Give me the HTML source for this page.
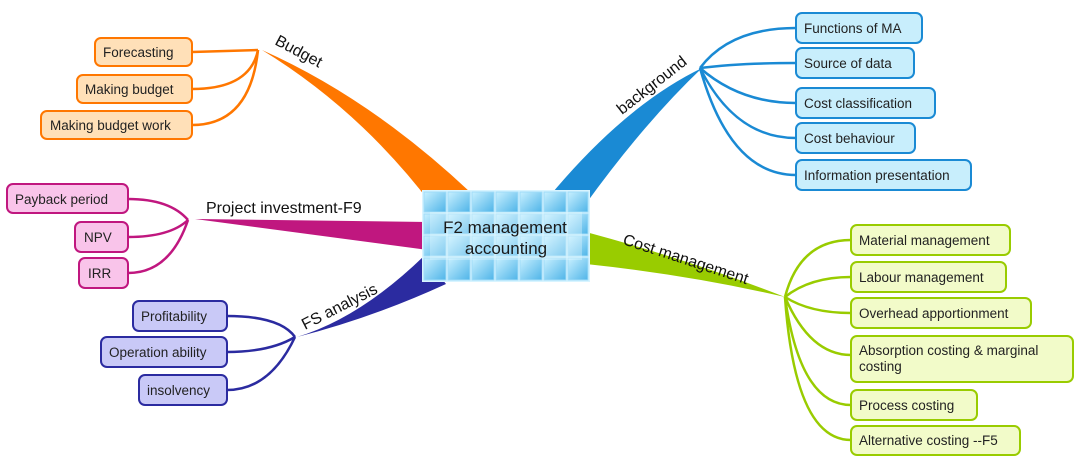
<!DOCTYPE html>
<html><head><meta charset="utf-8"><style>
html,body{margin:0;padding:0;background:#fff;}
svg{display:block;font-family:"Liberation Sans",sans-serif;}
.t{font-size:13.5px;fill:#222;}
.b{font-size:16px;fill:#111;}
</style></head><body>
<svg width="1080" height="475" viewBox="0 0 1080 475">
<defs>
<linearGradient id="tile" x1="0" y1="0" x2="1" y2="1">
<stop offset="0" stop-color="#c8f0ff"/><stop offset="1" stop-color="#4fb4e8"/>
</linearGradient>
</defs>
<path d="M432,205 Q360,110 262,50 Q370,98 470,192 Z" fill="#ff7700"/>
<path d="M548,198 Q625,105 702,68 Q645,122 585,205 Z" fill="#1a8ad4"/>
<path d="M428,222 L195,219 L428,250 Z" fill="#c0177f"/>
<path d="M424,256 Q360,318 297,337 Q372,318 446,284 Z" fill="#2b2ba0"/>
<path d="M586,232 Q690,260 785,297 Q690,275 586,264 Z" fill="#99cc00"/>
<g fill="none" stroke-width="2.5">
<g stroke="#ff7700">
<path d="M192,52 L258,50"/><path d="M192,89 Q250,89 258,50"/><path d="M192,125 Q250,125 258,50"/>
</g>
<g stroke="#1a8ad4">
<path d="M700,68 Q730,28 796,28"/><path d="M700,68 Q740,63 796,63"/><path d="M700,68 Q740,103 796,103"/><path d="M700,68 Q735,138 796,138"/><path d="M700,68 Q730,175 796,175"/>
</g>
<g stroke="#c0177f">
<path d="M188,220 Q170,199 128,199"/><path d="M188,220 Q170,237 128,237"/><path d="M188,220 Q170,273 128,273"/>
</g>
<g stroke="#2b2ba0">
<path d="M295,337 Q280,316 227,316"/><path d="M295,337 Q270,352 227,352"/><path d="M295,337 Q270,390 227,390"/>
</g>
<g stroke="#99cc00">
<path d="M785,297 Q800,240 851,240"/><path d="M785,297 Q810,277 851,277"/><path d="M785,297 Q810,313 851,313"/><path d="M785,297 Q810,355 851,355"/><path d="M785,297 Q800,405 851,405"/><path d="M785,297 Q795,440 851,440"/>
</g>
</g>
<text class="b" transform="translate(274,44) rotate(28)">Budget</text>
<text class="b" transform="translate(622,115) rotate(-38)">background</text>
<text class="b" x="206" y="213">Project investment-F9</text>
<text class="b" transform="translate(305,330) rotate(-27)">FS analysis</text>
<text class="b" transform="translate(622,244) rotate(18)">Cost management</text>
<g>
<rect x="422" y="190" width="168" height="92" fill="#d8f4ff"/>
<g fill="url(#tile)" stroke="#9fdcf8" stroke-width="1">
<rect x="424" y="192" width="22" height="20"/><rect x="448" y="192" width="22" height="20"/><rect x="472" y="192" width="22" height="20"/><rect x="496" y="192" width="22" height="20"/><rect x="520" y="192" width="22" height="20"/><rect x="544" y="192" width="22" height="20"/><rect x="568" y="192" width="20" height="20"/>
<rect x="424" y="214" width="22" height="20"/><rect x="448" y="214" width="22" height="20"/><rect x="472" y="214" width="22" height="20"/><rect x="496" y="214" width="22" height="20"/><rect x="520" y="214" width="22" height="20"/><rect x="544" y="214" width="22" height="20"/><rect x="568" y="214" width="20" height="20"/>
<rect x="424" y="236" width="22" height="20"/><rect x="448" y="236" width="22" height="20"/><rect x="472" y="236" width="22" height="20"/><rect x="496" y="236" width="22" height="20"/><rect x="520" y="236" width="22" height="20"/><rect x="544" y="236" width="22" height="20"/><rect x="568" y="236" width="20" height="20"/>
<rect x="424" y="258" width="22" height="22"/><rect x="448" y="258" width="22" height="22"/><rect x="472" y="258" width="22" height="22"/><rect x="496" y="258" width="22" height="22"/><rect x="520" y="258" width="22" height="22"/><rect x="544" y="258" width="22" height="22"/><rect x="568" y="258" width="20" height="22"/>
</g>
<rect x="430" y="212" width="152" height="48" fill="#e8f9ff" opacity="0.35"/>
<text x="505" y="233" font-size="17" fill="#1a1a1a" text-anchor="middle">F2 management</text>
<text x="506" y="254" font-size="17" fill="#1a1a1a" text-anchor="middle">accounting</text>
</g>
<g stroke-width="2">
<g fill="#ffe0b8" stroke="#ff7700">
<rect x="95" y="38" width="97" height="28" rx="6"/><rect x="77" y="75" width="115" height="28" rx="6"/><rect x="41" y="111" width="151" height="28" rx="6"/>
</g>
<g fill="#c8eefc" stroke="#1a8ad4">
<rect x="796" y="13" width="126" height="30" rx="6"/><rect x="796" y="48" width="118" height="30" rx="6"/><rect x="796" y="88" width="139" height="30" rx="6"/><rect x="796" y="123" width="119" height="30" rx="6"/><rect x="796" y="160" width="175" height="30" rx="6"/>
</g>
<g fill="#f9c4ea" stroke="#c0177f">
<rect x="7" y="184" width="121" height="29" rx="6"/><rect x="75" y="222" width="53" height="30" rx="6"/><rect x="79" y="258" width="49" height="30" rx="6"/>
</g>
<g fill="#c9c9f7" stroke="#2b2ba0">
<rect x="133" y="301" width="94" height="30" rx="6"/><rect x="101" y="337" width="126" height="30" rx="6"/><rect x="139" y="375" width="88" height="30" rx="6"/>
</g>
<g fill="#f2fbc9" stroke="#99cc00">
<rect x="851" y="225" width="159" height="30" rx="6"/><rect x="851" y="262" width="155" height="30" rx="6"/><rect x="851" y="298" width="180" height="30" rx="6"/><rect x="851" y="336" width="222" height="46" rx="6"/><rect x="851" y="390" width="126" height="30" rx="6"/><rect x="851" y="426" width="169" height="29" rx="6"/>
</g>
</g>
<g class="t">
<text x="103" y="57">Forecasting</text><text x="85" y="94">Making budget</text><text x="50" y="130">Making budget work</text>
<text x="804" y="33">Functions of MA</text><text x="804" y="68">Source of data</text><text x="804" y="108">Cost classification</text><text x="804" y="143">Cost behaviour</text><text x="804" y="180">Information presentation</text>
<text x="15" y="204">Payback period</text><text x="84" y="242">NPV</text><text x="88" y="278">IRR</text>
<text x="141" y="321">Profitability</text><text x="109" y="357">Operation ability</text><text x="147" y="395">insolvency</text>
<text x="859" y="245">Material management</text><text x="859" y="282">Labour management</text><text x="859" y="318">Overhead apportionment</text><text x="859" y="355">Absorption costing &amp; marginal</text><text x="859" y="371">costing</text><text x="859" y="410">Process costing</text><text x="859" y="445">Alternative costing --F5</text>
</g>
</svg>
</body></html>
